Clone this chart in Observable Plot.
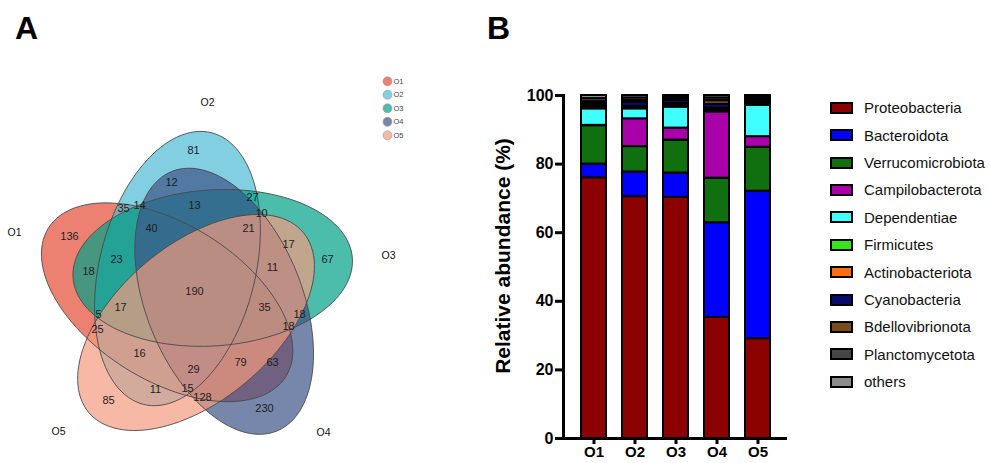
<!DOCTYPE html>
<html>
<head>
<meta charset="utf-8">
<script src="https://cdn.jsdelivr.net/npm/d3@7"></script>
<script src="https://cdn.jsdelivr.net/npm/@observablehq/plot@0.6"></script>
<style>
  body { margin: 0; background: #fff; font-family: "Liberation Sans", Arial, sans-serif; }
  #wrap { position: relative; width: 990px; height: 463px; overflow: hidden; background: #fff; }
  .letter { position: absolute; font-weight: bold; font-size: 32px; line-height: 32px; color: #000; }
  #venn { position: absolute; left: 0; top: 0; }
  #bars { position: absolute; left: 480px; top: 0; }
  .lgB { position: absolute; left: 830px; height: 14px; display: flex; align-items: center; white-space: nowrap; }
  .lgB .sw { width: 19px; height: 8px; border: 2px solid #000; box-sizing: content-box; }
  .lgB .tx { margin-left: 11px; font-size: 15px; color: #111; }
</style>
</head>
<body>
<div id="wrap">
  <div class="letter" style="left:15px;top:12px">A</div>
  <div class="letter" style="left:487px;top:12px">B</div>
  <div id="venn"></div>
  <div id="bars"></div>
</div>
<script>
// ---------------- Panel A data ----------------
const sets = ["O1", "O2", "O3", "O4", "O5"];
const setColors = ["#E64B35", "#4DBBD5", "#00A087", "#3C5488", "#F39B7F"];
const vennCounts = [136, 81, 12, 35, 14, 13, 27, 10, 40, 21, 17, 67, 23, 18, 11, 190,
  17, 35, 5, 18, 25, 18, 16, 29, 79, 63, 11, 15, 128, 85, 230];

// ---------------- Panel A layout ----------------
const vennLabelPos = [[69,236],[193,150],[171,182],[123,208],[139,205],[194,205],[252,197],[261,213],
  [151,228],[248,228],[288,244],[327,259],[116,259],[88,271],[272,267],[194,291],[120,307],[264,307],
  [98,314],[299,314],[97,329],[288,326],[139,353],[193,369],[240,362],[272,362],[155,389],[187,388],
  [202,397],[108,400],[264,408]];
const setLabelPos = [[14,232],[207,102],[388,255],[323,432],[58,431]];
const venn = {cx: 195, cy: 292, d: 30, a: 140, b: 78, angle0: -148, step: 72, offset: -51};
const legendA = {x: 387, y: 80.8, step: 13.5};

// ---------------- Panel B data ----------------
const samples = ["O1", "O2", "O3", "O4", "O5"];
const phyla = ["Proteobacteria", "Bacteroidota", "Verrucomicrobiota", "Campilobacterota", "Dependentiae",
  "Firmicutes", "Actinobacteriota", "Cyanobacteria", "Bdellovibrionota", "Planctomycetota", "others"];
const phylaColors = ["#8B0000", "#0000FF", "#107010", "#AA00AA", "#40FFFF", "#33E61E", "#FF6E14",
  "#0A0A6E", "#784B19", "#464646", "#8C8C8C"];
const proteobacteria    = [76.0, 70.5, 70.3, 35.3, 29.1];
const bacteroidota      = [4.0, 7.2, 7.1, 27.6, 43.0];
const verrucomicrobiota = [11.2, 7.4, 9.6, 13.0, 12.8];
const campilobacterota  = [0.1, 8.1, 3.5, 19.3, 3.1];
const dependentiae      = [4.8, 2.9, 6.1, 0.6, 9.1];
const firmicutes        = [0.6, 0.3, 0.5, 0.2, 0.4];
const actinobacteriota  = [0.5, 0.4, 0.6, 0.3, 0.5];
const cyanobacteria     = [0.6, 1.2, 0.9, 1.1, 0.7];
const bdellovibrionota  = [0.4, 0.5, 0.3, 1.1, 0.3];
const planctomycetota   = [0.9, 0.8, 0.6, 0.8, 0.6];
const others            = [0.9, 0.7, 0.5, 0.7, 0.4];
const yTicks = [0, 20, 40, 60, 80, 100];
const yTitle = "Relative abundance (%)";

// ---------------- Panel A ----------------
const rad = Math.PI / 180;
function ellipsePoints(i) {
  const th = (venn.angle0 + venn.step * i) * rad;
  const off = th + venn.offset * rad;
  const cx = venn.cx + venn.d * Math.cos(off), cy = venn.cy + venn.d * Math.sin(off);
  return d3.range(0, 360, 3).map(t => {
    const tt = t * rad;
    return {
      x: cx + venn.a * Math.cos(tt) * Math.cos(th) - venn.b * Math.sin(tt) * Math.sin(th),
      y: cy + venn.a * Math.cos(tt) * Math.sin(th) + venn.b * Math.sin(tt) * Math.cos(th)
    };
  });
}
const ellipses = sets.map((s, i) => ellipsePoints(i));
const font = "Liberation Sans, Arial, sans-serif";

const plotA = Plot.plot({
  width: 450, height: 463, margin: 0,
  x: {domain: [0, 450], range: [0, 450], axis: null},
  y: {domain: [0, 463], range: [0, 463], axis: null},
  style: {fontFamily: font, background: "transparent", overflow: "visible"},
  marks: [
    ...ellipses.map((pts, i) => Plot.line(pts, {x: "x", y: "y", curve: "linear-closed",
      fill: setColors[i], fillOpacity: 0.7, stroke: "none"})),
    ...ellipses.map((pts) => Plot.line(pts, {x: "x", y: "y", curve: "linear-closed",
      fill: "none", stroke: "#4a4a4a", strokeWidth: 0.9})),
    Plot.text(vennCounts, {x: (d, i) => vennLabelPos[i][0], y: (d, i) => vennLabelPos[i][1],
      text: d => String(d), fontSize: 11, fill: "#1e1e1e"}),
    Plot.text(sets, {x: (d, i) => setLabelPos[i][0], y: (d, i) => setLabelPos[i][1],
      text: d => d, fontSize: 10.5, fill: "#111"}),
    Plot.dot(sets, {x: () => legendA.x, y: (d, i) => legendA.y + i * legendA.step, r: 4.5,
      fill: (d, i) => setColors[i], fillOpacity: 0.7, stroke: "#999", strokeWidth: 0.6}),
    Plot.text(sets, {x: () => legendA.x + 6, y: (d, i) => legendA.y + i * legendA.step,
      text: d => d, textAnchor: "start", fontSize: 7.5, fill: "#444"})
  ]
});
document.getElementById("venn").appendChild(plotA);

// ---------------- Panel B ----------------
const abundance = [proteobacteria, bacteroidota, verrucomicrobiota, campilobacterota, dependentiae,
  firmicutes, actinobacteriota, cyanobacteria, bdellovibrionota, planctomycetota, others];
const table = [];
phyla.forEach((p, j) => samples.forEach((s, i) => table.push({sample: s, phylum: p, value: abundance[j][i]})));

const plotB = Plot.plot({
  width: 330, height: 463, marginLeft: 83, marginRight: 23, marginTop: 95, marginBottom: 25,
  x: {domain: samples, padding: 0.4, axis: null},
  y: {domain: [0, 100], axis: null},
  color: {domain: phyla, range: phylaColors},
  style: {fontFamily: font, background: "transparent", overflow: "visible", color: "#000"},
  marks: [
    Plot.barY(table, {x: "sample", y: "value", fill: "phylum", stroke: "#000", strokeWidth: 2}),
    Plot.frame({anchor: "left", strokeWidth: 3}),
    Plot.ruleY([0], {strokeWidth: 3}),
    Plot.axisY({ticks: yTicks, tickSize: 8, tickPadding: 2, strokeWidth: 3, fontSize: 16,
      fontWeight: "bold", label: null}),
    Plot.axisX({tickSize: 6, tickPadding: 2, strokeWidth: 3, fontSize: 15, fontWeight: "bold", label: null}),
    Plot.text([yTitle], {frameAnchor: "left", rotate: -90, dx: -60, dy: -11, fontSize: 21,
      fontWeight: "bold", textAnchor: "middle", text: d => d})
  ]
});
document.getElementById("bars").appendChild(plotB);

// ---------------- Legend B ----------------
const wrap = document.getElementById("wrap");
phyla.forEach((p, i) => {
  const row = document.createElement("div");
  row.className = "lgB";
  row.style.top = (107.7 + i * 27.4 - 7) + "px";
  const sw = document.createElement("div");
  sw.className = "sw";
  sw.style.background = phylaColors[i];
  const tx = document.createElement("span");
  tx.className = "tx";
  tx.textContent = p;
  row.appendChild(sw); row.appendChild(tx);
  wrap.appendChild(row);
});
</script>
</body>
</html>
